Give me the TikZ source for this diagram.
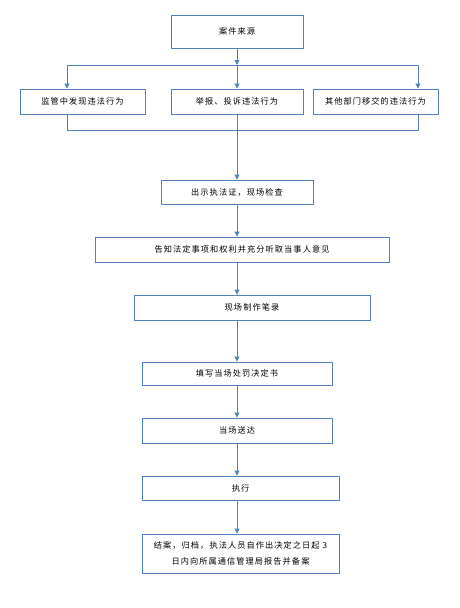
\documentclass[tikz,border=0pt]{standalone}
\usepackage{fontspec}
\newfontfamily\cjk[LetterSpace=13]{Noto Sans CJK SC}
\usetikzlibrary{arrows.meta}
\definecolor{lineblue}{RGB}{79,129,189}
\tikzset{
  box/.style={draw=lineblue, line width=0.9pt, rectangle, inner sep=0pt, align=center,
    font=\cjk\fontsize{8.2}{16}\selectfont, text=black},
  conn/.style={draw=lineblue, line width=0.9pt},
  arr/.style={conn, -{Triangle[width=5pt,length=5pt]}}
}
\begin{document}
\begin{tikzpicture}[x=1pt,y=-1pt]
\useasboundingbox (0,0) rectangle (459,608);
\node[box, minimum width=132pt, minimum height=33pt] (top) at (237,31.5) {案件来源};
\node[box, minimum width=125pt, minimum height=25pt] (left) at (82.5,101.5) {监管中发现违法行为};
\node[box, minimum width=132pt, minimum height=25pt] (mid) at (237,101.5) {举报、投诉违法行为};
\node[box, minimum width=125pt, minimum height=25pt] (right) at (375.5,101.5) {其他部门移交的违法行为};
\node[box, minimum width=152pt, minimum height=24pt] (b1) at (237,192) {出示执法证，现场检查};
\node[box, minimum width=294pt, minimum height=25pt] (b2) at (242,249.5) {告知法定事项和权利并充分听取当事人意见};
\node[box, minimum width=236pt, minimum height=25pt] (b3) at (252,307.5) {现场制作笔录};
\node[box, minimum width=190pt, minimum height=23pt] (b4) at (237,373.5) {填写当场处罚决定书};
\node[box, minimum width=190pt, minimum height=25pt] (b5) at (237,430.5) {当场送达};
\node[box, minimum width=197pt, minimum height=24pt] (b6) at (240.5,488) {执行};
\node[box, minimum width=197pt, minimum height=39pt] (b7) at (240.5,553.5) {结案，归档，执法人员自作出决定之日起 3\\日内向所属通信管理局报告并备案};
% split
\coordinate (sC) at (237,65);
\coordinate (sL) at (67,65);
\coordinate (sR) at (418,65);
\draw[arr] (top.south) -- (sC);
\draw[conn] (sL) -- (sR);
\draw[arr] (sL) -- (sL |- left.north);
\draw[arr] (sC) -- (mid.north);
\draw[arr] (sR) -- (sR |- right.north);
% merge
\coordinate (mL) at (67,130);
\coordinate (mR) at (418,130);
\coordinate (mC) at (237,130);
\draw[conn] (mL |- left.south) -- (mL) -- (mR) -- (mR |- right.south);
\draw[conn] (mid.south) -- (mC);
\draw[arr] (mC) -- (b1.north);
\draw[arr] (b1.south) -- (b1.south |- b2.north);
\draw[arr] (b1.south |- b2.south) -- (b1.south |- b3.north);
\draw[arr] (b1.south |- b3.south) -- (b4.north);
\draw[arr] (b4.south) -- (b5.north);
\draw[arr] (b5.south) -- (b5.south |- b6.north);
\draw[arr] (b5.south |- b6.south) -- (b5.south |- b7.north);
\end{tikzpicture}
\end{document}
